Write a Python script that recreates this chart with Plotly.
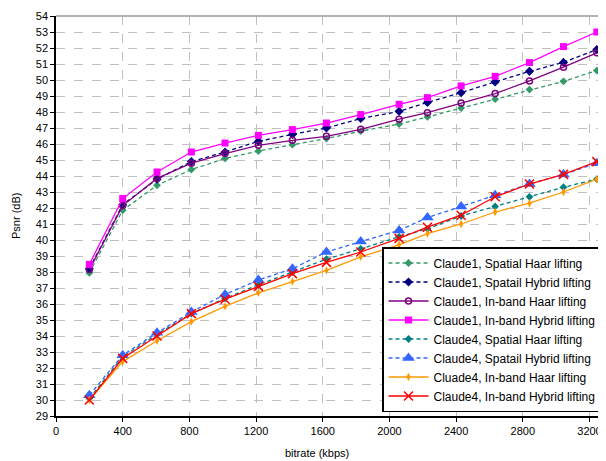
import plotly.graph_objects as go

bitrate = [200, 400, 606, 812, 1014, 1214, 1418, 1622, 1828, 2058, 2228, 2430, 2634, 2840, 3044, 3244]

c1_spatial_haar = [37.94, 41.86, 43.42, 44.4, 45.1, 45.56, 45.96, 46.34, 46.8, 47.25, 47.69, 48.25, 48.8, 49.4, 49.92, 50.59]
c1_spatial_hybrid = [38.21, 42.21, 43.8, 44.9, 45.5, 46.17, 46.6, 47.0, 47.59, 48.04, 48.6, 49.21, 49.88, 50.54, 51.1, 51.9]
c1_inband_haar = [38.15, 42.15, 43.85, 44.8, 45.4, 45.92, 46.23, 46.48, 46.92, 47.55, 47.96, 48.56, 49.15, 49.94, 50.8, 51.7]
c1_inband_hybrid = [38.48, 42.59, 44.25, 45.5, 46.06, 46.54, 46.9, 47.31, 47.84, 48.48, 48.9, 49.63, 50.23, 51.09, 52.09, 53.0]
c4_spatial_haar = [30.1, 32.7, 34.1, 35.4, 36.35, 37.2, 38.0, 38.8, 39.45, 40.2, 40.7, 41.5, 42.1, 42.7, 43.3, 43.8]
c4_spatial_hybrid = [30.3, 32.8, 34.2, 35.5, 36.6, 37.5, 38.2, 39.25, 39.9, 40.6, 41.4, 42.1, 42.8, 43.5, 44.1, 44.8]
c4_inband_haar = [30.0, 32.4, 33.7, 34.9, 35.85, 36.7, 37.4, 38.1, 38.95, 39.7, 40.4, 41.0, 41.75, 42.3, 43.0, 43.8]
c4_inband_hybrid = [30.0, 32.6, 34.0, 35.4, 36.3, 37.1, 37.9, 38.6, 39.25, 40.1, 40.8, 41.55, 42.7, 43.5, 44.1, 44.9]

names = [
    "Claude1, Spatial Haar lifting",
    "Claude1, Spatail Hybrid lifting",
    "Claude1, In-band Haar lifting",
    "Claude1, In-band Hybrid lifting",
    "Claude4, Spatial Haar lifting",
    "Claude4, Spatail Hybrid lifting",
    "Cluade4, In-band Haar lifting",
    "Claude4, In-band Hybrid lifting",
]
series = [c1_spatial_haar, c1_spatial_hybrid, c1_inband_haar, c1_inband_hybrid,
          c4_spatial_haar, c4_spatial_hybrid, c4_inband_haar, c4_inband_hybrid]
colors = ["#339966", "#000080", "#800080", "#FF00FF", "#008080", "#3366FF", "#FF9900", "#FF0000"]
dashes = ["4px,3px", "4px,3px", "solid", "solid", "4px,3px", "4px,3px", "solid", "solid"]
symbols = ["diamond", "diamond", "circle-open", "square", "diamond", "triangle-up", "diamond-tall", "x-thin-open"]
sizes = [6, 7, 6, 7, 6, 11, 6, 9]

fig = go.Figure()
for nm, ys, c, d, s, sz in zip(names, series, colors, dashes, symbols, sizes):
    mk = dict(symbol=s, size=sz, color=c)
    if s in ("x-thin-open", "circle-open"):
        mk["line"] = dict(color=c, width=1.5)
    else:
        mk["line"] = dict(width=0)
    fig.add_trace(go.Scatter(x=bitrate, y=ys, name=nm, mode="lines+markers",
                             line=dict(color=c, width=1.3, dash=d), marker=mk))

fig.update_layout(
    width=598, height=453,
    margin=dict(l=48, r=4, t=8, b=45, autoexpand=False),
    paper_bgcolor="white", plot_bgcolor="white",
    font=dict(family="Liberation Sans, Arial, sans-serif", size=11, color="black"),
    showlegend=True,
    legend=dict(x=1, xanchor="right", y=0.01, yanchor="bottom",
                bordercolor="black", borderwidth=1.5, bgcolor="white",
                font=dict(size=12), tracegroupgap=0, itemwidth=40),
    xaxis=dict(range=[0, 3275], tickmode="linear", tick0=0, dtick=400,
               showgrid=True, gridcolor="#c0c0c0", griddash="dash", gridwidth=1,
               showline=True, linecolor="black", linewidth=1.5,
               ticks="outside", ticklen=4, tickcolor="black",
               zeroline=False, automargin=False),
    yaxis=dict(range=[29, 54], tickmode="linear", tick0=29, dtick=1,
               showgrid=True, gridcolor="#c0c0c0", griddash="dash", gridwidth=1,
               showline=True, linecolor="black", linewidth=1.5,
               ticks="outside", ticklen=4, tickcolor="black",
               zeroline=False, automargin=False),
    shapes=[
        dict(type="line", xref="paper", yref="paper", x0=0, x1=1, y0=1, y1=1,
             line=dict(color="#999999", width=1.5)),
        dict(type="line", xref="paper", yref="paper", x0=1, x1=1, y0=0, y1=1,
             line=dict(color="#999999", width=1.5)),
    ],
    annotations=[
        dict(text="bitrate (kbps)", xref="paper", yref="paper", x=0.478, y=0,
             yshift=-37, showarrow=False, xanchor="center", yanchor="middle",
             font=dict(size=11)),
        dict(text="Psnr (dB)", xref="paper", yref="paper", x=0, y=0.5,
             xshift=-40, showarrow=False, textangle=-90, xanchor="center",
             yanchor="middle", font=dict(size=11)),
    ],
)

fig.write_html("out.html")
